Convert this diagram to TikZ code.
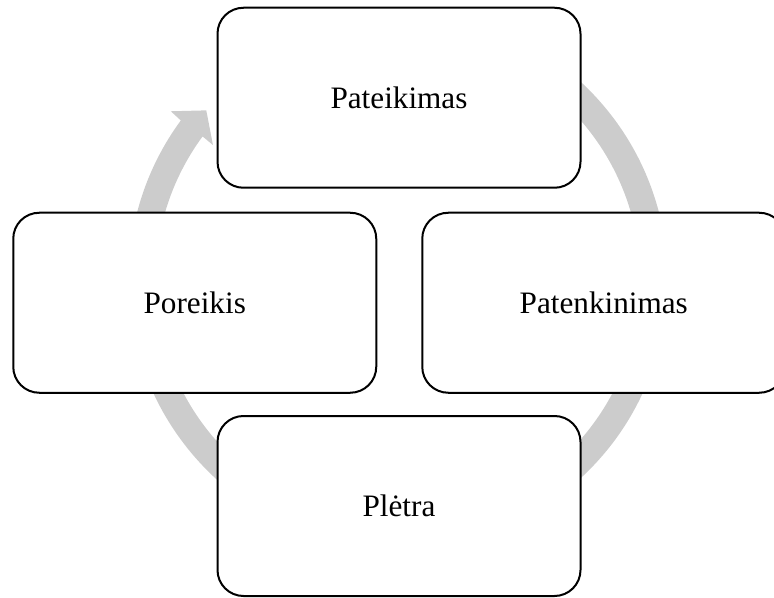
\documentclass[tikz,border=0pt]{standalone}
\usepackage{fontspec}
\setmainfont{Liberation Serif}
\begin{document}
\begin{tikzpicture}[x=0.75pt,y=-0.75pt,
  box/.style={draw=black, line width=1.5pt, fill=white, rounded corners=19.5pt,
    minimum width=272.25pt, minimum height=135pt, inner sep=0pt,
    font=\fontsize{23.4}{28}\selectfont},
  ring/.style={fill=black!20, draw=none}]
\useasboundingbox (0,0) rectangle (774,598);
\clip (0,0) rectangle (774,598);
\begin{scope}[shift={(398,280)}]
  \fill[ring] (230:269.5) arc[start angle=230, end angle=576.3, radius=269.5]
    -- (576.6:283) -- (581.5:256) -- (576.1:229) -- (576.3:242.5)
    arc[start angle=576.3, end angle=230, radius=242.5] -- cycle;
\end{scope}
\node[box] (top) at (399,97.75) {Pateikimas};
\node[box] (left) at (194.75,302.75) {Poreikis};
\node[box] (right) at (603.75,302.75) {Patenkinimas};
\node[box] (bottom) at (399,506) {Plėtra};
\end{tikzpicture}
\end{document}
